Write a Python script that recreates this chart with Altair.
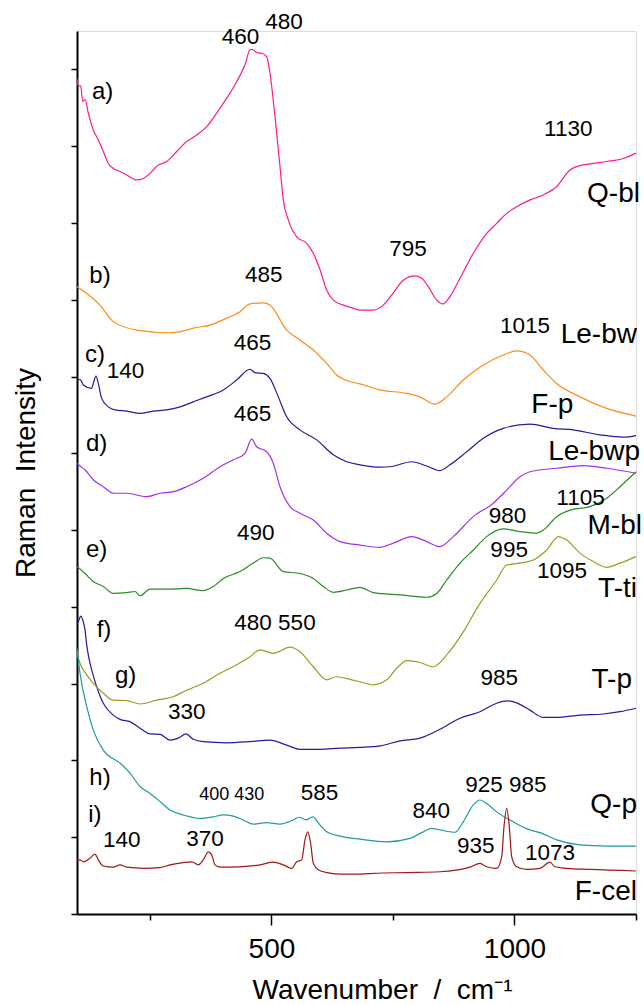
import altair as alt
import pandas as pd

# ---- series (wavenumber / cm-1, stacked intensity in arbitrary units) ----
QBL = [(100,21.75),(102.7,21.57),(107.6,21.57),(111.7,21.16),(116.5,21.22),(123.2,20.86),(133.5,20.42),(143.8,20.16),(154.1,19.86),(164.4,19.55),(174.7,19.42),(188.5,19.34),(202.2,19.25),(222.8,19.12),(236.4,19.16),(250.2,19.29),(264,19.48),(284.5,19.60),(305.1,19.86),(325.7,20.12),(346.2,20.29),(366.8,20.51),(387.4,20.86),(408,21.25),(428.5,21.68),(445.6,22.12),(455.9,22.51),(459.4,22.52),(469.7,22.44),(480,22.42),(490.2,22.33),(497,21.90),(507.3,20.77),(517.6,19.47),(524.4,18.60),(534.7,18.08),(551.9,17.64),(572.5,17.47),(586.1,17.21),(599.9,16.78),(613.7,16.25),(627.3,15.99),(647.8,15.86),(668.4,15.78),(682.2,15.73),(709.5,15.73),(730.1,15.86),(750.7,16.18),(771.3,16.51),(795.3,16.62),(809.1,16.56),(822.7,16.34),(840,15.99),(852.3,15.89),(867.3,16.08),(887.9,16.56),(915.3,17.21),(942.8,17.73),(963.4,17.99),(980.4,18.21),(1004.5,18.42),(1031.9,18.60),(1059.3,18.73),(1086.8,18.95),(1114.2,19.38),(1128,19.47),(1155.3,19.54),(1189.7,19.60),(1223.8,19.68),(1250,19.82)]

LEBW = [(100,16.34),(120,16.17),(147.3,15.86),(174.7,15.43),(222.8,15.21),(291.3,15.14),(325.7,15.21),(339.2,15.26),(373.6,15.34),(408,15.52),(435.3,15.69),(455.9,15.89),(483.2,15.92),(497,15.86),(531.4,15.21),(558.7,14.95),(586.1,14.69),(613.7,14.34),(634.2,14.04),(661.6,13.87),(682.2,13.81),(723.3,13.65),(778.3,13.56),(805.6,13.47),(836.5,13.28),(860.6,13.47),(894.7,13.91),(935.9,14.30),(977,14.56),(1004.5,14.67),(1031.9,14.56),(1059.3,14.17),(1086.8,13.82),(1134.7,13.47),(1189.7,13.17),(1250,12.97)]

FP = [(100,13.95),(102.7,13.93),(107.6,13.91),(113,13.78),(130.2,13.69),(133.5,13.82),(139.1,14.01),(143.8,13.82),(150.8,13.43),(164.4,13.21),(178.2,13.13),(202.2,13.10),(229.6,13.04),(257,13.10),(284.5,13.13),(311.9,13.21),(339.2,13.34),(366.8,13.47),(401,13.65),(428.5,13.91),(455.9,14.19),(466.2,14.10),(483.3,14.08),(497,13.95),(514.1,13.47),(531.4,12.95),(558.7,12.61),(593.1,12.35),(627.3,11.96),(654.8,11.78),(682.2,11.70),(723.3,11.64),(743.9,11.65),(788.5,11.78),(819.4,11.67),(846.7,11.55),(867.3,11.70),(901.7,12.04),(935.8,12.39),(977,12.65),(1031.9,12.76),(1079.8,12.65),(1121,12.61),(1175.9,12.48),(1223.8,12.42),(1250,12.46)]

LEBWP = [(100,11.74),(106.2,11.67),(116.5,11.57),(133.5,11.31),(154.1,11.13),(174.7,10.96),(202.2,10.96),(243.4,10.87),(270.7,10.96),(298.1,11.00),(325.7,11.13),(359.8,11.35),(394.2,11.65),(421.5,11.83),(445.6,12.00),(459.4,12.37),(469.7,12.17),(490.2,12.04),(503.8,11.74),(517.6,11.13),(538.2,10.61),(558.7,10.44),(586.1,10.26),(613.7,9.92),(641,9.70),(682.2,9.61),(723.3,9.55),(750.7,9.66),(788.5,9.83),(812.4,9.74),(846.7,9.57),(874.1,9.83),(915.3,10.35),(956.4,10.70),(984,11.04),(1011.3,11.39),(1031.9,11.52),(1086.8,11.61),(1141.5,11.68),(1189.7,11.61),(1250,11.48)]

MBL = [(100,9.05),(116.5,8.87),(133.5,8.66),(154.1,8.53),(174.7,8.35),(202.2,8.37),(219.3,8.40),(229.6,8.29),(250.2,8.46),(284.5,8.46),(325.7,8.48),(359.8,8.42),(380.4,8.53),(401,8.74),(435.3,8.92),(462.7,9.14),(483.3,9.28),(497,9.27),(524.4,8.92),(558.7,8.87),(586.1,8.74),(606.7,8.53),(627.3,8.38),(654.8,8.44),(682.2,8.51),(709.5,8.37),(764.5,8.31),(819.4,8.25),(840,8.35),(860.6,8.70),(887.9,9.14),(915.3,9.48),(942.8,9.83),(977,10.03),(1011.3,9.96),(1045.7,9.92),(1059.3,10.00),(1086.8,10.35),(1114.2,10.52),(1155.3,10.61),(1189.7,10.83),(1217,11.13),(1250,11.52)]

TP = [(100,7.57),(102.7,7.61),(107.6,7.76),(111.7,7.66),(116.5,7.40),(120,7.01),(123.2,6.75),(130.2,6.36),(140.5,5.92),(154.1,5.49),(174.7,5.18),(188.5,5.07),(209,5.01),(229.6,4.84),(250.2,4.69),(270.7,4.68),(291.3,4.53),(308.4,4.58),(324.2,4.69),(339.2,4.55),(359.8,4.49),(408,4.46),(455.9,4.49),(497,4.53),(531.4,4.40),(558.7,4.29),(599.9,4.29),(641,4.32),(682.2,4.34),(723.3,4.38),(764.5,4.51),(805.6,4.58),(846.7,4.81),(887.9,5.10),(929,5.27),(963.4,5.49),(984,5.55),(1004.5,5.50),(1031.9,5.31),(1059.3,5.12),(1086.8,5.12),(1134.7,5.18),(1182.7,5.21),(1217,5.27),(1250,5.36)]

TTI = [(100,6.79),(106.2,6.53),(120,6.23),(133.5,6.01),(154.1,5.75),(174.7,5.57),(202.2,5.56),(229.6,5.47),(264,5.57),(298.1,5.66),(325.7,5.83),(359.8,6.01),(394.2,6.27),(428.5,6.49),(455.9,6.70),(476.5,6.88),(503.8,6.79),(538.2,6.95),(558.7,6.83),(586.1,6.44),(613.7,6.10),(634.2,6.18),(661.6,6.11),(682.2,6.05),(709.5,5.97),(737.1,6.10),(757.7,6.40),(778.2,6.60),(805.6,6.55),(833,6.44),(860.6,6.75),(894.7,7.35),(929,8.09),(963.4,8.70),(984,9.09),(1011.3,9.14),(1038.7,9.22),(1066.3,9.48),(1090.1,9.83),(1107.4,9.74),(1134.7,9.40),(1162.1,9.18),(1189.7,9.03),(1217,9.14),(1250,9.31)]

QP = [(100,6.92),(106.2,6.27),(120,5.40),(133.5,4.79),(154.1,4.27),(188.5,3.93),(209,3.67),(229.6,3.32),(250.2,3.14),(270.7,2.93),(291.3,2.71),(318.7,2.58),(353,2.49),(380.4,2.53),(401,2.58),(421.5,2.55),(442.1,2.45),(462.7,2.34),(490.2,2.38),(517.6,2.34),(545,2.45),(557.3,2.52),(571.1,2.45),(584.9,2.53),(599.9,2.32),(613.7,2.14),(641,2.03),(682.2,1.95),(737.1,1.88),(785,1.97),(812.4,2.14),(829.7,2.23),(846.7,2.19),(877.6,2.13),(894.7,2.40),(915.3,2.84),(929,2.97),(942.8,2.88),(963.4,2.66),(997.5,2.40),(1031.9,2.19),(1052.5,2.12),(1086.8,1.93),(1134.7,1.80),(1189.7,1.77),(1250,1.77)]

FCEL = [(100,1.39),(106.2,1.41),(113,1.36),(126.7,1.45),(137,1.56),(143.8,1.41),(154.1,1.25),(174.7,1.22),(188.5,1.28),(202.2,1.22),(236.4,1.19),(270.7,1.21),(291.3,1.28),(318.7,1.34),(336,1.36),(349.5,1.28),(359.8,1.41),(370.1,1.62),(377.1,1.54),(383.9,1.28),(394.2,1.22),(435.3,1.23),(476.5,1.28),(503.8,1.35),(524.4,1.28),(541.7,1.19),(551.9,1.36),(562.2,1.41),(569,1.93),(574.6,2.14),(580.7,1.84),(586.1,1.32),(596.4,1.15),(613.7,1.08),(647.8,1.04),(682.2,1.04),(709.5,1.06),(778.2,1.08),(846.7,1.10),(908.4,1.22),(929,1.32),(942.8,1.23),(963.4,1.19),(973.7,1.49),(978.4,2.27),(984,2.75),(989.3,2.27),(994.3,1.49),(1004.5,1.23),(1025.1,1.16),(1052.5,1.19),(1073.1,1.35),(1083.3,1.23),(1107.4,1.19),(1155.3,1.16),(1250,1.12)]

SERIES = ["Q-bl", "Le-bw", "F-p", "Le-bwp", "M-bl", "T-p", "T-ti", "Q-p", "F-cel"]
COLORS = ["#FF1A8C", "#FF8C1A", "#1E1E9E", "#A030F0", "#2A8C22", "#1E1E9E", "#9C9C22", "#1E9C9C", "#A01818"]
CURVES = [QBL, LEBW, FP, LEBWP, MBL, TP, TTI, QP, FCEL]

# ---- annotations ----
PEAK_TEXT = ["460", "480", "485", "795", "1130", "1015", "140", "465", "465", "490", "1105", "980",
             "995", "1095", "480 550", "330", "985", "585", "840", "925 985", "140", "370", "935", "1073"]
PEAK_WN = [436.4, 525.8, 484.3, 781, 1110.7, 1021.6, 199.8, 461, 461, 467.8, 1135.8, 985.6,
           989, 1097.7, 507.3, 325.7, 968.5, 598.9, 828.9, 982.5, 192, 363.3, 920.4, 1073]
PEAK_I = [22.66, 23.04, 16.47, 17.14, 20.27, 15.13, 13.95, 14.69, 12.85, 9.74, 10.65, 10.19,
          9.31, 8.74, 7.40, 5.07, 5.97, 2.97, 2.49, 3.19, 1.75, 1.77, 1.58, 1.41]

SMALL_TEXT = ["400 430"]
SMALL_WN = [418.2]
SMALL_I = [2.97]

LETTER_TEXT = ["a)", "b)", "c)", "d)", "e)", "f)", "g)", "h)", "i)"]
LETTER_WN = [130.9, 125.3, 116.5, 118.5, 118.5, 140.5, 178.2, 125.3, 123.2]
LETTER_I = [21.23, 16.44, 14.39, 12.07, 9.31, 7.22, 6.01, 3.36, 2.40]

NAME_TEXT = ["Q-bl", "Le-bw", "F-p", "Le-bwp", "M-bl", "T-ti", "T-p", "Q-p", "F-cel"]
NAME_WN = [1258.2, 1252, 1121, 1258.2, 1262.3, 1252, 1241.7, 1252, 1252]
NAME_I = [18.55, 14.87, 13.04, 11.83, 9.90, 8.27, 5.88, 2.62, 0.36]

rows = []
for name, pts in zip(SERIES, CURVES):
    for wn, inten in pts:
        rows.append({"series": name, "wn": wn, "inten": inten})
df = pd.DataFrame(rows)

FONT = "Liberation Sans"
xs = alt.Scale(domain=[100, 1250], nice=False, zero=False)
ys = alt.Scale(domain=[0, 23], nice=False, zero=False)

x_axis = alt.Axis(
    values=[250, 500, 750, 1000, 1250],
    labelExpr="(datum.value == 500 || datum.value == 1000) ? '' + datum.value : ''",
    tickSize={"condition": {"test": "datum.value == 500 || datum.value == 1000", "value": 11}, "value": 6},
    tickWidth=1.5, tickColor="black", domainColor="black", domainWidth=2,
    labelFont=FONT, labelFontSize=28, labelColor="black", labelPadding=10, labelBaseline="top",
    title="Wavenumber\u00a0 /\u00a0 cm\u207b\u00b9", titleFont=FONT, titleFontSize=28, titleFontWeight="normal",
    titleColor="black", titleX=305, titleY=84, titleBaseline="alphabetic", titleAlign="center",
    grid=False,
)
y_axis = alt.Axis(
    values=list(range(0, 24)), labels=False,
    tickSize={"condition": {"test": "datum.value % 2 == 1", "value": 12}, "value": 6},
    tickWidth=1.5, tickColor="black", domainColor="black", domainWidth=2,
    title="Raman\u00a0 Intensity", titleFont=FONT, titleFontSize=28, titleFontWeight="normal",
    titleColor="black", titleAngle=270, titleX=-43, titleY=441.5, titleBaseline="alphabetic",
    titleAlign="center", grid=False,
)

lines = alt.Chart(df).mark_line(strokeWidth=1.2, interpolate="monotone").encode(
    x=alt.X("wn:Q", scale=xs, axis=x_axis),
    y=alt.Y("inten:Q", scale=ys, axis=y_axis),
    color=alt.Color("series:N", scale=alt.Scale(domain=SERIES, range=COLORS), legend=None),
    detail="series:N",
)

def text_layer(texts, wns, ints, size, align):
    d = pd.DataFrame({"t": texts, "wn": wns, "inten": ints})
    return alt.Chart(d).mark_text(font=FONT, fontSize=size, align=align, baseline="alphabetic",
                                  color="black").encode(
        x=alt.X("wn:Q", scale=xs), y=alt.Y("inten:Q", scale=ys), text="t:N")

peaks = text_layer(PEAK_TEXT, PEAK_WN, PEAK_I, 22.5, "center")
small = text_layer(SMALL_TEXT, SMALL_WN, SMALL_I, 18, "center")
letters = text_layer(LETTER_TEXT, LETTER_WN, LETTER_I, 24, "left")
names = text_layer(NAME_TEXT, NAME_WN, NAME_I, 28, "right")

chart = alt.layer(lines, peaks, small, letters, names).properties(
    width=559, height=883,
    autosize=alt.AutoSizeParams(type="none"),
    padding={"left": 77, "top": 31, "right": 8, "bottom": 91},
).configure_view(stroke=None).configure(background="white")

chart.save("out.html", embed_options={"renderer": "svg", "actions": False})
